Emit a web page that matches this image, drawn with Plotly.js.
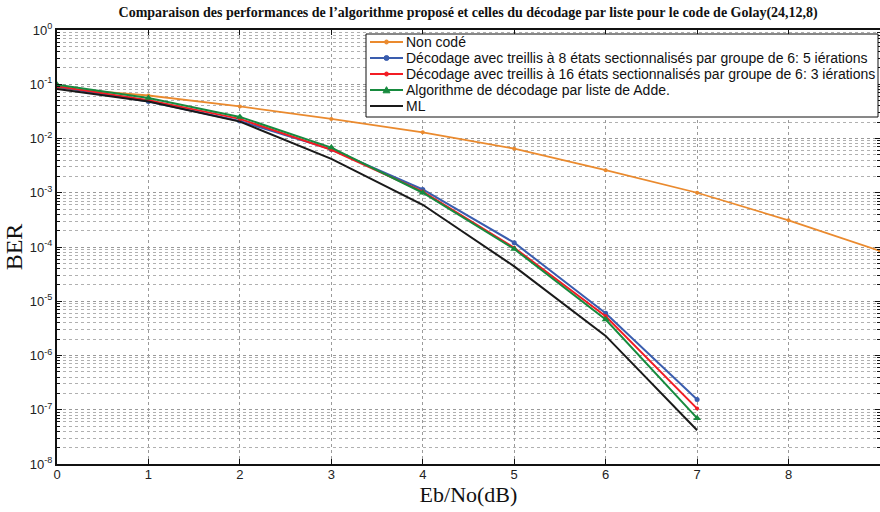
<!DOCTYPE html>
<html>
<head>
<meta charset="utf-8">
<script src="https://cdn.plot.ly/plotly-3.0.1.min.js"></script>
<style>html,body{margin:0;padding:0;background:#fff}#chart{width:880px;height:512px}</style>
</head>
<body>
<div id="chart"></div>
<script>
const snr = [0,1,2,3,4,5,6,7,8,9];
const snrCoded = [0,1,2,3,4,5,6,7];
const nonCode = [0.085,0.062,0.039,0.023,0.013,0.0065,0.0026,0.001,3.1e-4,8.5e-5];
const treillis8 = [0.090,0.048,0.021,0.0063,0.00115,1.2e-4,6.0e-6,1.55e-7];
const treillis16 = [0.092,0.051,0.023,0.0062,0.00105,9.7e-5,5.3e-6,1.05e-7];
const adde = [0.098,0.056,0.025,0.0068,0.0010,9.2e-5,4.6e-6,7.0e-8];
const ml = [0.082,0.048,0.0205,0.0042,6.0e-4,4.4e-5,2.3e-6,4.2e-8];
const names = ["Non codé",
  "Décodage avec treillis à 8 états sectionnalisés par groupe de 6: 5 iérations",
  "Décodage avec treillis à 16 états sectionnalisés par groupe de 6: 3 iérations",
  "Algorithme de décodage par liste de Adde.",
  "ML"];
const colors = ['#EA8A2E','#3A5DAE','#F21C24','#178A3E','#1a1a1a'];
const yTickVals = [1,0.1,0.01,1e-3,1e-4,1e-5,1e-6,1e-7,1e-8];
const yTickText = ["10<sup>0</sup>","10<sup>-1</sup>","10<sup>-2</sup>","10<sup>-3</sup>","10<sup>-4</sup>","10<sup>-5</sup>","10<sup>-6</sup>","10<sup>-7</sup>","10<sup>-8</sup>"];
const xTickVals = [0,1,2,3,4,5,6,7,8];

const markerStyles = [
  {symbol: 'circle', size: 4},
  {symbol: 'circle', size: 5},
  {symbol: 'circle', size: 4},
  {symbol: 'triangle-up', size: 7},
  null
];
const series = [nonCode, treillis8, treillis16, adde, ml];
const xs = [snr, snrCoded, snrCoded, snrCoded, snrCoded];

const traces = series.map((ys, i) => {
  const t = {x: xs[i], y: ys, name: names[i], showlegend: false,
             mode: markerStyles[i] ? 'lines+markers' : 'lines',
             line: {color: colors[i], width: i === 0 ? 1.8 : 2}};
  if (markerStyles[i]) t.marker = Object.assign({color: colors[i]}, markerStyles[i]);
  return t;
});

// Legend box (matlab-style, compact rows) built from names/colors
const M = {l: 57, r: 0, t: 30, b: 48};
const W = 880, H = 512;
const pw = W - M.l - M.r, ph = H - M.t - M.b;
const px = v => (v - M.l) / pw;
const py = v => (H - M.b - v) / ph;
const legBox = {x0: 366, x1: 878, y0: 34, y1: 117};
const rowY0 = 42, rowStep = 16;
const shapes = [{type: 'rect', xref: 'paper', yref: 'paper',
  x0: px(legBox.x0), x1: px(legBox.x1), y0: py(legBox.y1), y1: py(legBox.y0),
  fillcolor: '#fff', line: {color: '#111', width: 1}, layer: 'above'}];
const annotations = [];
names.forEach((n, i) => {
  const yy = py(rowY0 + i * rowStep);
  shapes.push({type: 'line', xref: 'paper', yref: 'paper', x0: px(370), x1: px(403), y0: yy, y1: yy,
               line: {color: colors[i], width: 2}, layer: 'above'});
  const ms = markerStyles[i];
  if (ms) {
    const r = ms.size / 2;
    const base = {xref: 'paper', yref: 'paper', xsizemode: 'pixel', ysizemode: 'pixel',
                  xanchor: px(386.5), yanchor: yy, fillcolor: colors[i],
                  line: {color: colors[i], width: 1}, layer: 'above'};
    if (ms.symbol === 'circle') {
      shapes.push(Object.assign({type: 'circle', x0: -r, x1: r, y0: -r, y1: r}, base));
    } else {
      shapes.push(Object.assign({type: 'path', path: `M ${-r} ${-r*0.8} L ${r} ${-r*0.8} L 0 ${r*0.95} Z`}, base));
    }
  }
  annotations.push({xref: 'paper', yref: 'paper', x: px(404), y: yy, xanchor: 'left', yanchor: 'middle',
    text: n, showarrow: false, font: {family: 'Liberation Sans, Arial, sans-serif', size: 14, color: '#111'}});
});

const gridCol = '#9a9a9a';
const layout = {
  width: W, height: H,
  margin: M,
  paper_bgcolor: '#fff', plot_bgcolor: '#fff',
  font: {family: 'Liberation Sans, Arial, sans-serif', size: 12, color: '#222'},
  title: {text: '<b>Comparaison des performances de l’algorithme proposé et celles du décodage par liste pour le code de Golay(24,12,8)</b>',
          font: {family: 'Liberation Serif, Times New Roman, serif', size: 14, color: '#111'},
          x: 0.532, xanchor: 'center', y: 0.977, yanchor: 'middle'},
  xaxis: {range: [0, 9], tickvals: xTickVals, ticktext: xTickVals.map(String),
          showgrid: true, gridcolor: gridCol, griddash: 'dot', gridwidth: 1,
          showline: true, linecolor: '#111', linewidth: 2, mirror: 'ticks',
          ticks: 'inside', ticklen: 5, tickcolor: '#111', zeroline: false,
          tickfont: {size: 13, color: '#222'}, ticklabelstandoff: -3,
          title: {text: 'Eb/No(dB)', font: {family: 'Liberation Serif, Times New Roman, serif', size: 22, color: '#111'}, standoff: 0}},
  yaxis: {type: 'log', range: [-8, 0], tickvals: yTickVals, ticktext: yTickText,
          showgrid: true, gridcolor: gridCol, griddash: 'dot', gridwidth: 1,
          showline: true, linecolor: '#111', linewidth: 2, mirror: 'ticks',
          ticks: 'inside', ticklen: 5, tickcolor: '#111', zeroline: false,
          tickfont: {size: 13, color: '#222'},
          minor: {dtick: 'D1', showgrid: true, gridcolor: '#b0b0b0', griddash: 'dot', gridwidth: 1,
                  ticks: 'inside', ticklen: 3, tickcolor: '#111'},
          title: {text: 'BER', font: {family: 'Liberation Serif, Times New Roman, serif', size: 24, color: '#111'}, standoff: 0}},
  shapes: shapes,
  annotations: annotations,
  showlegend: false
};
Plotly.newPlot('chart', traces, layout, {displayModeBar: false, staticPlot: true});
</script>
</body>
</html>
